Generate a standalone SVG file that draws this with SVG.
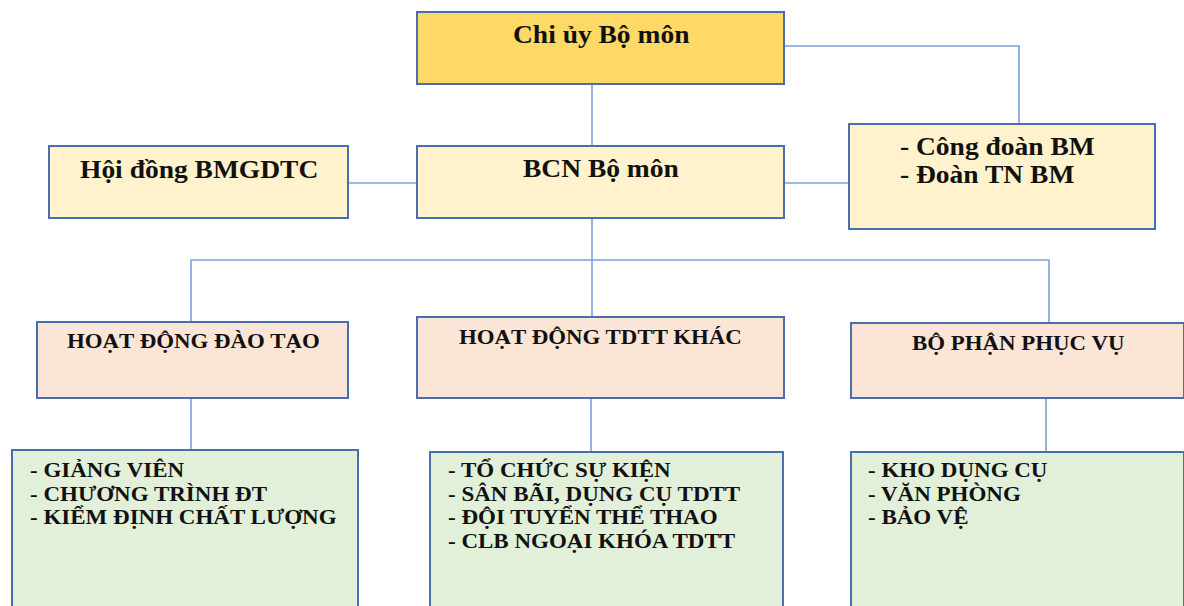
<svg xmlns="http://www.w3.org/2000/svg" width="1184" height="606" viewBox="0 0 1184 606">
  <style>
    .box { stroke: #4a6db0; stroke-width: 2; }
    .gold { fill: #ffd966; }
    .cream { fill: #fff2cc; }
    .pink { fill: #fbe5d6; }
    .green { fill: #e2efd9; }
    .conn { stroke: #7f9fdc; stroke-width: 1.6; fill: none; }
    text { font-family: "Liberation Serif", "Times New Roman", serif; font-weight: bold; fill: #111; }
    .big { font-size: 25px; }
    .head { font-size: 21px; }
    .item { font-size: 20px; }
  </style>
  <rect width="1184" height="606" fill="#ffffff"/>

  <!-- connectors -->
  <g id="connectors">
    <line class="conn" x1="592" y1="84" x2="592" y2="146"/>
    <polyline class="conn" points="784,46 1019,46 1019,124"/>
    <line class="conn" x1="348" y1="183" x2="417" y2="183"/>
    <line class="conn" x1="784" y1="183" x2="849" y2="183"/>
    <line class="conn" x1="592" y1="218" x2="592" y2="318"/>
    <polyline class="conn" points="191,322 191,260 1049,260 1049,323"/>
    <line class="conn" x1="191" y1="398" x2="191" y2="450"/>
    <line class="conn" x1="591" y1="398" x2="591" y2="452"/>
    <line class="conn" x1="1046" y1="398" x2="1046" y2="452"/>
  </g>

  <!-- labels use a slightly widened serif: translate to the baseline start, then stretch horizontally -->
  <g id="chi-uy">
    <rect class="box gold" x="417" y="12" width="367" height="72"/>
    <text class="big" transform="translate(513,43) scale(1.1,1)">Chi ủy Bộ môn</text>
  </g>

  <g id="bcn">
    <rect class="box cream" x="417" y="146" width="367" height="72"/>
    <text class="big" transform="translate(523,177) scale(1.1,1)">BCN Bộ môn</text>
  </g>

  <g id="hoi-dong">
    <rect class="box cream" x="49" y="146" width="299" height="72"/>
    <text class="big" transform="translate(80,178) scale(1.1,1)">Hội đồng BMGDTC</text>
  </g>

  <g id="cong-doan">
    <rect class="box cream" x="849" y="124" width="306" height="105"/>
    <text class="big" transform="translate(900,155) scale(1.1,1)">- Công đoàn BM</text>
    <text class="big" transform="translate(900,183) scale(1.1,1)">- Đoàn TN BM</text>
  </g>

  <g id="dao-tao">
    <rect class="box pink" x="37" y="322" width="311" height="76"/>
    <text class="head" transform="translate(67,348) scale(1.09,1)">HOẠT ĐỘNG ĐÀO TẠO</text>
  </g>

  <g id="tdtt-khac">
    <rect class="box pink" x="417" y="317" width="367" height="81"/>
    <text class="head" transform="translate(459,344) scale(1.09,1)">HOẠT ĐỘNG TDTT KHÁC</text>
  </g>

  <g id="phuc-vu">
    <rect class="box pink" x="851" y="323" width="333" height="75"/>
    <text class="head" transform="translate(912,350) scale(1.09,1)">BỘ PHẬN PHỤC VỤ</text>
  </g>

  <g id="dao-tao-items">
    <rect class="box green" x="12" y="450" width="346" height="160"/>
    <text class="item" transform="translate(30,477) scale(1.15,1)">- GIẢNG VIÊN</text>
    <text class="item" transform="translate(30,501) scale(1.15,1)">- CHƯƠNG TRÌNH ĐT</text>
    <text class="item" transform="translate(30,524) scale(1.15,1)">- KIỂM ĐỊNH CHẤT LƯỢNG</text>
  </g>

  <g id="tdtt-items">
    <rect class="box green" x="430" y="452" width="353" height="160"/>
    <text class="item" transform="translate(448,477) scale(1.15,1)">- TỔ CHỨC SỰ KIỆN</text>
    <text class="item" transform="translate(448,501) scale(1.15,1)">- SÂN BÃI, DỤNG CỤ TDTT</text>
    <text class="item" transform="translate(448,524) scale(1.15,1)">- ĐỘI TUYỂN THỂ THAO</text>
    <text class="item" transform="translate(448,548) scale(1.15,1)">- CLB NGOẠI KHÓA TDTT</text>
  </g>

  <g id="phuc-vu-items">
    <rect class="box green" x="851" y="452" width="333" height="160"/>
    <text class="item" transform="translate(868,477) scale(1.15,1)">- KHO DỤNG CỤ</text>
    <text class="item" transform="translate(868,501) scale(1.15,1)">- VĂN PHÒNG</text>
    <text class="item" transform="translate(868,524) scale(1.15,1)">- BẢO VỆ</text>
  </g>
</svg>
